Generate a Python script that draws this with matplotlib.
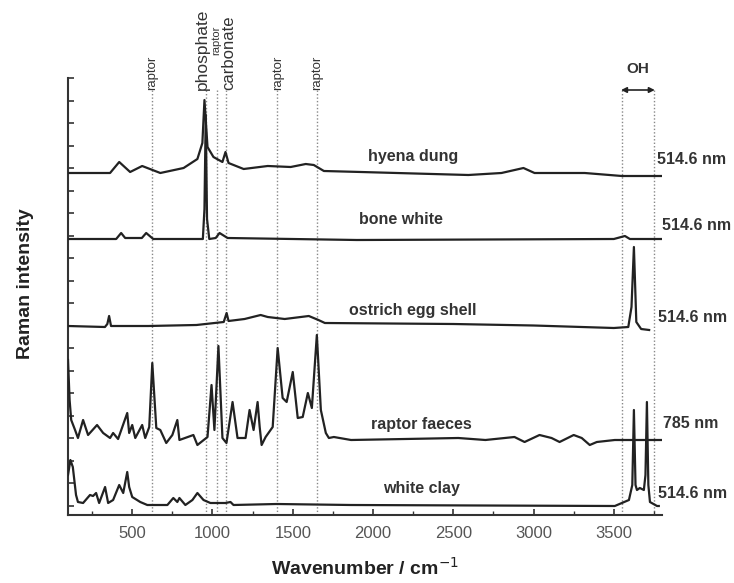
import numpy as np
import matplotlib
matplotlib.use("Agg")
import matplotlib.pyplot as plt
from matplotlib.ticker import MultipleLocator

plt.rcParams['font.family'] = ['Liberation Sans', 'DejaVu Sans']

# spectra: wavenumber (cm-1) and intensity above each trace's own baseline
hyena_wn = [100, 362, 419, 487, 562, 675, 820, 906, 937, 950, 969, 1006, 1062, 1081, 1100,
            1194, 1344, 1487, 1581, 1631, 1694, 1925, 2594, 2800, 2937, 3006, 3319, 3550, 3800]
hyena_int = [2, 2, 13, 3, 9, 2, 7, 16, 32, 75, 28, 18, 13, 23, 12,
             6, 9, 8, 11, 10, 4, 3, 0, 2, 7, 2, 2, -1, -1]

bone_wn = [100, 400, 431, 456, 560, 587, 631, 940, 950, 958, 966, 980, 1020, 1044, 1094,
           1900, 3500, 3569, 3600, 3800]
bone_int = [0, 0, 6, 1, 1, 6, 0, 0, 30, 124, 20, 0, 1, 6, 1,
            -1, 0, 3, 0, 0]

ostrich_wn = [100, 330, 345, 356, 368, 600, 900, 1070, 1088, 1100, 1200, 1300, 1344, 1450,
              1550, 1600, 1660, 1700, 2500, 3000, 3500, 3590, 3610, 3625, 3640, 3670, 3720]
ostrich_int = [1, 0, 3, 11, 1, 1, 2, 5, 14, 6, 8, 12, 10, 8,
               10, 11, 7, 4, 3, 1.5, -1, 0, 20, 80, 5, -2, -3]

raptor_wn = [100, 110, 120, 144, 162, 194, 225, 281, 319, 362, 381, 412, 469, 481, 500, 519,
             562, 581, 606, 625, 650, 675, 712, 750, 781, 794, 881, 906, 969, 994, 1012, 1037,
             1062, 1087, 1125, 1156, 1206, 1231, 1256, 1281, 1294, 1306, 1331, 1375, 1406,
             1437, 1462, 1500, 1531, 1562, 1594, 1619, 1650, 1675, 1706, 1725, 1756, 1863,
             2200, 2531, 2700, 2881, 2944, 3037, 3112, 3162, 3250, 3300, 3350, 3394, 3506, 3800]
raptor_int = [80, 40, 20, 10, 2, 20, 5, 15, 7, 2, 7, 1, 27, 7, 15, 2,
              15, 2, 13, 77, 12, 10, -3, 5, 20, 0, 5, -5, 3, 55, 10, 94,
              2, -3, 38, 2, 2, 30, 10, 38, 13, -5, 3, 13, 92,
              42, 38, 68, 22, 23, 47, 32, 105, 30, 7, 2, 3, 0,
              1, 2, 0, 3, -2, 5, 2, -2, 5, 2, -5, -2, 0, 0]

clay_wn = [100, 115, 130, 150, 162, 194, 237, 256, 275, 294, 331, 350, 381, 419, 444, 469,
           481, 500, 550, 594, 719, 756, 781, 794, 831, 875, 906, 944, 987, 1081, 1112, 1131,
           1400, 1863, 3506, 3594, 3615, 3625, 3635, 3644, 3662, 3687, 3697, 3706, 3715,
           3725, 3769, 3780]
clay_int = [30, 45, 38, 10, 3, 2, 10, 9, 12, 2, 18, 2, 5, 20, 12, 33,
            18, 8, 3, 0, 0, 7, 3, 7, 0, 5, 12, 5, 2, 2, 3, 0,
            1, 0, -1, 5, 20, 95, 20, 15, 17, 15, 30, 103, 20,
            3, -1, -1]

spectra = [(hyena_wn, hyena_int), (bone_wn, bone_int), (ostrich_wn, ostrich_int),
           (raptor_wn, raptor_int), (clay_wn, clay_int)]
offsets = [340, 276, 188, 75, 10]
sample_names = ['hyena dung', 'bone white', 'ostrich egg shell', 'raptor faeces', 'white clay']
name_pos = [(2250, 358), (2175, 296), (2250, 204), (2300, 91), (2300, 26)]
lasers = ['514.6 nm', '514.6 nm', '514.6 nm', '785 nm', '514.6 nm']
laser_pos = [(3770, 355), (3800, 289), (3776, 198), (3807, 92), (3776, 22)]

# band markers
band_wn = [625, 958, 1030, 1085, 1400, 1650, 3550, 3750]
band_labels = [('raptor', 625, 9.5, 425), ('phosphate', 940, 12.5, 425),
               ('raptor', 1026, 8, 460), ('carbonate', 1100, 12, 425),
               ('raptor', 1406, 9.5, 425), ('raptor', 1650, 9.5, 425)]

fig = plt.figure(figsize=(7.34, 5.83), dpi=100)
ax = fig.add_axes([68/734, 68/583, 594/734, 437/583])

for wn in band_wn:
    ax.plot([wn, wn], [0, 425], color='#888888', lw=1, ls=(0, (1, 1.5)), zorder=1)

for (wn, inten), off in zip(spectra, offsets):
    ax.plot(wn, np.array(inten) + off, color='#222222', lw=1.6, zorder=3)

for name, (x, y) in zip(sample_names, name_pos):
    ax.text(x, y, name, ha='center', va='center', fontsize=11.5, fontweight='bold', color='#333333')
for lab, (x, y) in zip(lasers, laser_pos):
    ax.text(x, y, lab, ha='left', va='center', fontsize=11.5, fontweight='bold', color='#333333',
            clip_on=False)

for lab, x, fs, y in band_labels:
    ax.text(x, y, lab, rotation=90, ha='center', va='bottom', fontsize=fs, color='#333333',
            clip_on=False)

ax.text(3650, 446, 'OH', ha='center', va='center', fontsize=11, fontweight='bold', color='#333333')
ax.annotate('', xy=(3545, 425), xytext=(3755, 425),
            arrowprops=dict(arrowstyle='<|-|>', color='#222222', lw=1.2, mutation_scale=8,
                            shrinkA=0, shrinkB=0), annotation_clip=False)

ax.set_xlim(100, 3800)
ax.set_ylim(0, 437)
ax.spines['top'].set_visible(False)
ax.spines['right'].set_visible(False)
for s in ['left', 'bottom']:
    ax.spines[s].set_linewidth(1.5)
    ax.spines[s].set_color('#333333')

ax.xaxis.set_minor_locator(MultipleLocator(250))
ax.set_xticks([500, 1000, 1500, 2000, 2500, 3000, 3500])
ax.set_yticks(np.arange(9.5, 438, 22.5))
ax.set_yticklabels([])
ax.tick_params(axis='both', which='major', direction='in', length=4, width=1.2, color='#333333')
ax.tick_params(axis='x', which='minor', direction='in', length=3, width=1, color='#333333')
ax.tick_params(axis='x', labelsize=12, labelcolor='#555555', pad=8)

ax.set_xlabel('Wavenumber / cm$^{-1}$', fontsize=14, fontweight='bold', color='#222222')
ax.xaxis.set_label_coords(0.5, -0.095)
ax.set_ylabel('Raman intensity', fontsize=14, fontweight='bold', color='#222222')
ax.yaxis.set_label_coords(-0.058, 0.53)

fig.savefig('out.png', dpi=100)
